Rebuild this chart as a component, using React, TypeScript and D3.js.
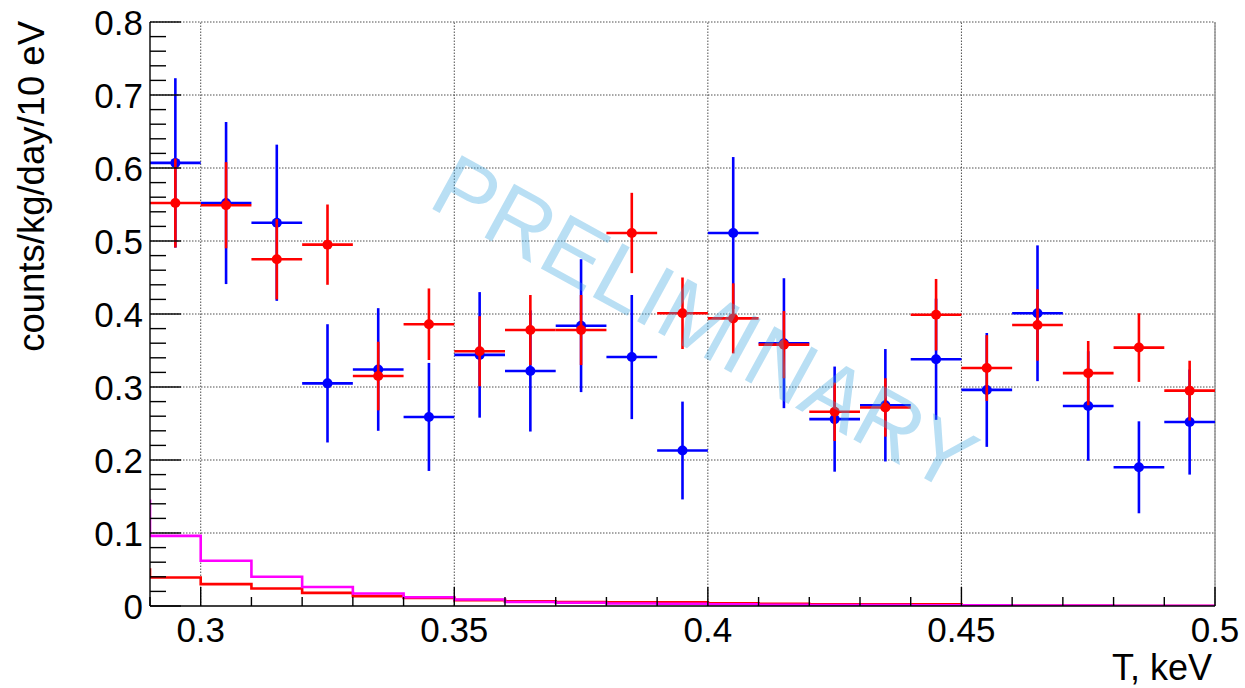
import React from "react";
import * as d3 from "d3";

// bin centres (keV), 10 eV bins
const binCenters = [
  0.295, 0.305, 0.315, 0.325, 0.335, 0.345, 0.355, 0.365, 0.375, 0.385, 0.395,
  0.405, 0.415, 0.425, 0.435, 0.445, 0.455, 0.465, 0.475, 0.485, 0.495,
];
const binHalfWidth = 0.005;

const blueVals = [
  0.607, 0.552, 0.525, 0.305, 0.324, 0.259, 0.344, 0.322, 0.384, 0.341, 0.213,
  0.511, 0.36, 0.256, 0.275, 0.338, 0.296, 0.401, 0.274, 0.19, 0.252,
];
const blueErr = [
  0.116, 0.111, 0.107, 0.081, 0.084, 0.074, 0.086, 0.083, 0.091, 0.085, 0.067,
  0.104, 0.089, 0.072, 0.077, 0.083, 0.078, 0.093, 0.075, 0.063, 0.072,
];
const redVals = [
  0.552, 0.549, 0.475, 0.495, 0.315, 0.386, 0.349, 0.378, 0.378, 0.511, 0.401,
  0.394, 0.358, 0.266, 0.272, 0.399, 0.326, 0.385, 0.319, 0.354, 0.295,
];
const redErr = [
  0.061, 0.059, 0.055, 0.055, 0.047, 0.049, 0.048, 0.048, 0.048, 0.055, 0.049,
  0.048, 0.046, 0.04, 0.04, 0.049, 0.045, 0.049, 0.044, 0.047, 0.041,
];

// background histograms, low edges of bins
const histEdges = [
  0.28, 0.29, 0.3, 0.31, 0.32, 0.33, 0.34, 0.35, 0.36, 0.37, 0.38, 0.39, 0.4,
  0.41, 0.42, 0.43, 0.44, 0.45, 0.46, 0.47, 0.48, 0.49, 0.5,
];
const redHist = [
  0.05, 0.039, 0.03, 0.024, 0.018, 0.0135, 0.011, 0.008, 0.0065, 0.0055,
  0.005, 0.005, 0.0037, 0.003, 0.0025, 0.0022, 0.0023, 0.0005, 0.0003, 0.0002,
  0.0001, 0.0001,
];
const magentaHist = [
  0.144, 0.096, 0.062, 0.04, 0.026, 0.0172, 0.012, 0.009, 0.0055, 0.0045,
  0.0035, 0.003, 0.0024, 0.0018, 0.0014, 0.0013, 0.001, 0.0008, 0.0006,
  0.0005, 0.0004, 0.0003,
];

const xTickLabels = [0.3, 0.35, 0.4, 0.45, 0.5];
const yTickLabels = [0, 0.1, 0.2, 0.3, 0.4, 0.5, 0.6, 0.7, 0.8];

const W = 1245;
const H = 688;
const margin = { left: 150, right: 30, top: 22, bottom: 82 };
const font = "'Liberation Sans', Arial, Helvetica, sans-serif";

export default function App() {
  const x = d3
    .scaleLinear()
    .domain([0.29, 0.5])
    .range([margin.left, W - margin.right]);
  const y = d3
    .scaleLinear()
    .domain([0, 0.8])
    .range([H - margin.bottom, margin.top]);

  const [x0, x1] = x.range();
  const [yb, yt] = y.range();

  const xMinor = d3.range(29, 51).map((d) => d / 100);
  const yMinor = d3.range(0, 41).map((d) => d / 50);

  const stepLine = d3
    .line<number>()
    .x((_, i) => x(histEdges[i]))
    .y((d) => y(d))
    .curve(d3.curveStepAfter);
  const histPath = (vals: number[]) =>
    stepLine([...vals, vals[vals.length - 1]]);

  const points = (vals: number[], errs: number[], color: string) => (
    <g stroke={color} fill={color} strokeWidth={2.6}>
      {binCenters.map((c, i) => (
        <g key={i}>
          <line
            x1={x(c - binHalfWidth)}
            x2={x(c + binHalfWidth)}
            y1={y(vals[i])}
            y2={y(vals[i])}
          />
          <line
            x1={x(c)}
            x2={x(c)}
            y1={y(vals[i] - errs[i])}
            y2={y(vals[i] + errs[i])}
          />
          <circle cx={x(c)} cy={y(vals[i])} r={5} stroke="none" />
        </g>
      ))}
    </g>
  );

  return (
    <svg
      width={W}
      height={H}
      style={{ position: "absolute", left: 0, top: 0, background: "#fff" }}
      fontFamily={font}
    >
      <defs>
        <clipPath id="plotClip">
          <rect x={x0} y={yt - 2} width={x1 - x0} height={yb - yt + 2} />
        </clipPath>
      </defs>

      {/* grid */}
      <g stroke="#222" strokeWidth={0.8} strokeDasharray="1.5 1.5">
        {xTickLabels.map((t) => (
          <line key={t} x1={x(t)} x2={x(t)} y1={yb} y2={yt} />
        ))}
        {yTickLabels.slice(1).map((t) => (
          <line key={t} x1={x0} x2={x1} y1={y(t)} y2={y(t)} />
        ))}
      </g>

      {/* right frame edge */}
      <line x1={x1} x2={x1} y1={yt} y2={yb} stroke="#999" strokeWidth={1.5} />

      {/* histograms */}
      <g clipPath="url(#plotClip)" fill="none" strokeWidth={2.6}>
        <path d={histPath(redHist) || ""} stroke="#ff0000" />
        <path d={histPath(magentaHist) || ""} stroke="#ff00ff" />
      </g>

      {/* data points */}
      {points(blueVals, blueErr, "#0000ff")}
      {points(redVals, redErr, "#ff0000")}

      {/* watermark */}
      <text
        transform={`translate(690,350) rotate(28.7)`}
        textAnchor="middle"
        fontSize={89}
        fill="rgb(60,165,225)"
        fillOpacity={0.36}
      >
        PRELIMINARY
      </text>

      {/* axes */}
      <g stroke="#000" strokeWidth={1.4}>
        <line x1={x0} x2={x0} y1={yt} y2={yb} />
        <line x1={x0} x2={x1} y1={yb} y2={yb} />
        {xMinor.map((t, i) => {
          const major = xTickLabels.some((m) => Math.abs(m - t) < 1e-9);
          return (
            <line
              key={i}
              x1={x(t)}
              x2={x(t)}
              y1={yb}
              y2={yb - (major ? 19 : 9)}
            />
          );
        })}
        {yMinor.map((t, i) => {
          const major = i % 5 === 0;
          return (
            <line
              key={i}
              x1={x0}
              x2={x0 + (major ? 31 : 16)}
              y1={y(t)}
              y2={y(t)}
            />
          );
        })}
      </g>

      {/* tick labels */}
      <g fontSize={35} fill="#000">
        {xTickLabels.map((t) => (
          <text key={t} x={x(t)} y={642} textAnchor="middle">
            {String(t)}
          </text>
        ))}
        {yTickLabels.map((t) => (
          <text key={t} x={143} y={y(t)} dy="0.36em" textAnchor="end">
            {String(t)}
          </text>
        ))}
      </g>

      {/* axis titles */}
      <text x={1212} y={680} fontSize={36} textAnchor="end">
        T, keV
      </text>
      <text
        transform={`translate(44,21) rotate(-90)`}
        fontSize={36.5}
        textAnchor="end"
      >
        counts/kg/day/10 eV
      </text>
    </svg>
  );
}
